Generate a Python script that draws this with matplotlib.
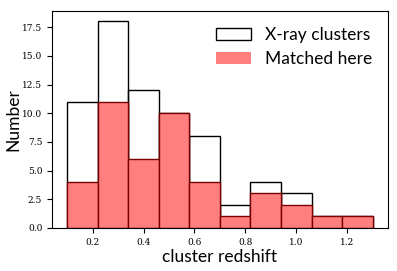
import matplotlib
matplotlib.use("Agg")
import matplotlib.pyplot as plt
from matplotlib.patches import Patch
import numpy as np

edges = np.linspace(0.1, 1.3, 11)
xray_counts = [11, 18, 12, 10, 8, 2, 4, 3, 1, 1]
matched_counts = [4, 11, 6, 10, 4, 1, 3, 2, 1, 1]

centers = 0.5 * (edges[:-1] + edges[1:])

fig = plt.figure(figsize=(3.97, 2.71), dpi=100)
ax = fig.add_axes([0.131, 0.159, 0.846, 0.8])

ax.hist(centers, bins=edges, weights=xray_counts, histtype='bar',
        fill=False, edgecolor='black', linewidth=1.0)
ax.hist(centers, bins=edges, weights=matched_counts, histtype='bar',
        facecolor='#ff7f7f', edgecolor='#7a0000', linewidth=1.0)

ax.set_yticks(np.arange(0, 18, 2.5))
ax.set_yticklabels([f"{v:.1f}" for v in np.arange(0, 18, 2.5)], family='DejaVu Serif', fontsize=6.5)
ax.set_xticks([0.2, 0.4, 0.6, 0.8, 1.0, 1.2])
ax.set_xticklabels(["0.2", "0.4", "0.6", "0.8", "1.0", "1.2"], family='DejaVu Serif', fontsize=6.5)

ax.set_xlabel("cluster redshift", fontsize=12.5, family='Lato')
ax.set_ylabel("Number", fontsize=12.5, family='Lato')
ax.xaxis.set_label_coords(0.5, -0.095)
ax.yaxis.set_label_coords(-0.09, 0.5)

handles = [Patch(facecolor='white', edgecolor='black', label='X-ray clusters'),
           Patch(facecolor='#ff7f7f', edgecolor='none', label='Matched here')]
ax.legend(handles=handles, loc='upper right', frameon=False,
          prop={'family': 'Lato', 'size': 12.5}, handlelength=2.0)

fig.savefig("out.png", dpi=100)
